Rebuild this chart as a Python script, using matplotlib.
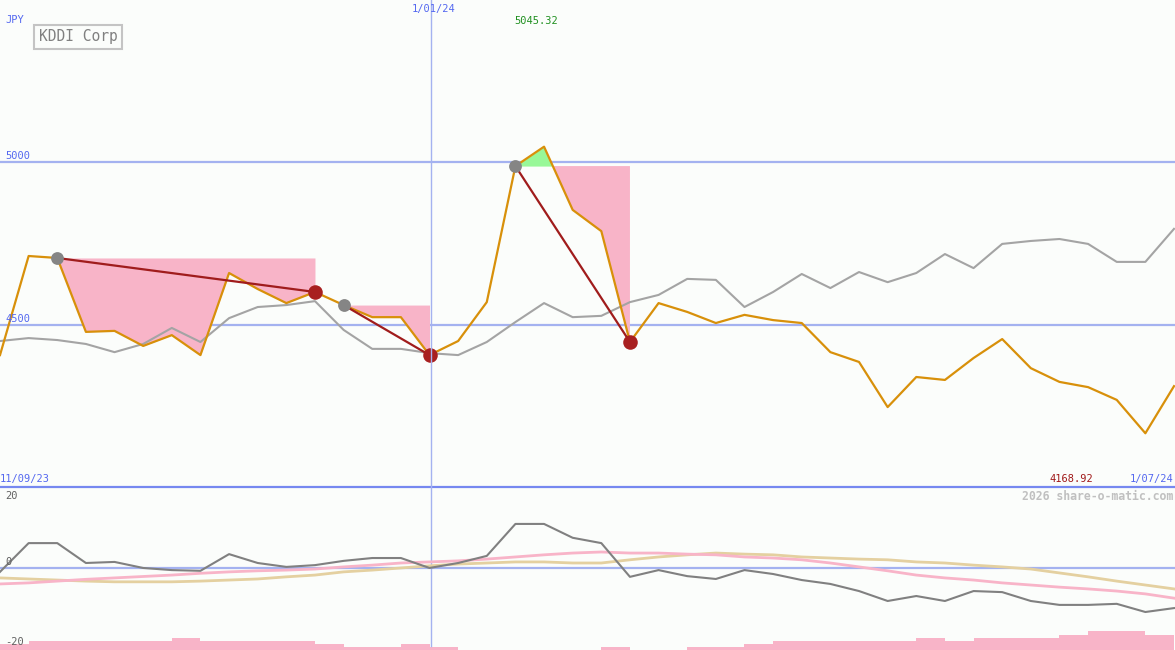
import matplotlib
matplotlib.use("Agg")
import matplotlib.pyplot as plt
import numpy as np

# weekly closes (JPY): KDDI and the grey comparison series
kddi = [4408, 4711, 4705, 4479, 4482, 4436, 4469, 4408, 4659, 4610,
        4567, 4601, 4561, 4524, 4524, 4408, 4451, 4570, 4986, 5045.32,
        4852, 4787, 4448, 4567, 4540, 4506, 4531, 4515, 4506, 4417,
        4387, 4249, 4341, 4332, 4399, 4457, 4368, 4326, 4310, 4271,
        4168.92, 4313]
compare = [4451, 4460, 4454, 4442, 4417, 4442, 4491, 4448, 4521, 4555,
           4561, 4573, 4485, 4427, 4427, 4414, 4408, 4448, 4509, 4567,
           4524, 4528, 4570, 4592, 4641, 4638, 4555, 4601, 4656, 4613,
           4662, 4631, 4659, 4717, 4674, 4748, 4757, 4763, 4748, 4693,
           4693, 4794]

# lower panel: relative strength (dark grey) and its two averages
osc = [-1.1, 7.0, 7.0, 1.4, 1.7, 0.0, -0.6, -0.8, 3.9, 1.4,
       0.3, 0.8, 2.0, 2.8, 2.8, 0.0, 1.4, 3.4, 12.4, 12.4,
       8.5, 7.0, -2.5, -0.6, -2.3, -3.1, -0.6, -1.7, -3.4, -4.5,
       -6.5, -9.3, -7.9, -9.3, -6.5, -6.8, -9.3, -10.4, -10.4, -10.1,
       -12.4, -11.3]
osc_fast = [-4.5, -4.2, -3.7, -3.2, -2.8, -2.4, -2.0, -1.5, -1.1, -0.8,
            -0.6, -0.3, 0.3, 0.8, 1.4, 1.7, 2.0, 2.5, 3.1, 3.7,
            4.2, 4.5, 4.2, 4.2, 3.9, 3.7, 3.1, 2.8, 2.3, 1.4,
            0.3, -0.8, -2.0, -2.8, -3.4, -4.2, -4.8, -5.4, -5.9, -6.5,
            -7.3, -8.5]
osc_slow = [-2.8, -3.1, -3.4, -3.7, -3.9, -3.9, -3.9, -3.7, -3.4, -3.1,
            -2.5, -2.0, -1.1, -0.6, 0.0, 0.6, 1.1, 1.4, 1.7, 1.7,
            1.4, 1.4, 2.3, 3.1, 3.7, 4.2, 3.9, 3.7, 3.1, 2.8,
            2.5, 2.3, 1.7, 1.4, 0.8, 0.3, -0.3, -1.4, -2.5, -3.7,
            -4.8, -5.9]
# weekly volume (relative)
volume = [6, 9, 9, 9, 9, 9, 12, 9, 9, 9, 9, 6, 3, 3, 6, 3, 0, 0, 0, 0,
          0, 3, 0, 0, 3, 3, 6, 9, 9, 9, 9, 9, 12, 9, 12, 12, 12, 15, 19, 19, 15]

# peak -> trough swings (start week, end week)
swings = [(2, 11), (12, 15), (18, 22)]

bg = "#fbfdfb"
blue = "#5468f0"
line_blue = "#a4b2f0"
pink = "#f8b4c8"

W, H = 1175, 650
fig = plt.figure(figsize=(W / 100, H / 100), dpi=100)
fig.patch.set_facecolor(bg)

x = np.arange(len(kddi))
k = np.array(kddi)

ax = fig.add_axes([0, 163 / H, 1, 487 / H])
ax.set_facecolor(bg)
ax.set_xlim(0, 41.035)
ax.set_ylim(4004.6, 5493.9)
ax.axis("off")

ax.axhline(5000, color=line_blue, lw=1.6, zorder=1)
ax.axhline(4500, color=line_blue, lw=1.6, zorder=1)

for s, e in swings:
    xs = x[s:e + 1]
    ys = k[s:e + 1]
    level = k[s]
    ax.fill_between(xs, ys, level, where=ys <= level, interpolate=True,
                    color=pink, lw=0, zorder=2)
    ax.fill_between(xs, ys, level, where=ys >= level, interpolate=True,
                    color="#98f898", lw=0, zorder=2)

ax.plot(x, compare, color="#a4a4a4", lw=1.5, zorder=3)
ax.plot(x, kddi, color="#d8900a", lw=1.6, zorder=4)

for s, e in swings:
    ax.plot([x[s], x[e]], [k[s], k[e]], color="#a01c1c", lw=1.6, zorder=5)
    ax.scatter([x[s]], [k[s]], s=85, color="#858585", zorder=6, lw=0)
    ax.scatter([x[e]], [k[e]], s=110, color="#a82020", zorder=6, lw=0)

# lower panel
oax = fig.add_axes([0, 0, 1, 163 / H])
oax.set_facecolor(bg)
oax.set_xlim(0, 41.035)
oax.set_ylim(-23.1, 22.8)
oax.axis("off")
vax = oax.twinx()
vax.set_ylim(0, 163)
vax.axis("off")
vax.bar(x[:-1], volume, width=1.0, align="edge", color=pink, lw=0, zorder=1)

oax.axhline(0, color=line_blue, lw=1.6, zorder=2)
oax.plot(x, osc_slow, color="#e4d0a0", lw=2.0, zorder=3)
oax.plot(x, osc_fast, color="#f8b4c8", lw=2.0, zorder=3)
oax.plot(x, osc, color="#808080", lw=1.5, zorder=4)
oax.set_zorder(2)
oax.patch.set_visible(False)

# separator and date marker
fig.add_artist(plt.Line2D([0, 1], [1 - 487 / H, 1 - 487 / H], color="#7688f0", lw=1.6))
fig.add_artist(plt.Line2D([430.5 / W, 430.5 / W], [1, 1 - 646 / H], color=line_blue, lw=1.0))


def px(xp, yp):
    return xp / W, 1 - yp / H


mono = "DejaVu Sans Mono"
fs = 7.5
fig.text(*px(5, 20), "JPY", color=blue, fontsize=fs, family=mono, va="center")
fig.text(*px(78, 37), "KDDI Corp", color="#808080", fontsize=10.5, family=mono,
         va="center", ha="center",
         bbox=dict(boxstyle="square,pad=0.3", fc=bg, ec="#c4c4c4", lw=1.5))
fig.text(*px(434, 9), "1/01/24", color=blue, fontsize=fs, family=mono, va="center", ha="center")
fig.text(*px(536, 21), "5045.32", color="#209020", fontsize=fs, family=mono, va="center", ha="center")
fig.text(*px(5, 156), "5000", color=blue, fontsize=fs, family=mono, va="center")
fig.text(*px(5, 319), "4500", color=blue, fontsize=fs, family=mono, va="center")
fig.text(*px(0, 479), "11/09/23", color=blue, fontsize=fs, family=mono, va="center")
fig.text(*px(1071, 479), "4168.92", color="#a01818", fontsize=fs, family=mono, va="center", ha="center")
fig.text(*px(1173, 479), "1/07/24", color=blue, fontsize=fs, family=mono, va="center", ha="right")
fig.text(*px(1173, 496), "2026 share-o-matic.com", color="#c0c0c0", fontsize=8.3,
         family=mono, weight="bold", va="center", ha="right")
fig.text(*px(5, 496), "20", color="#606060", fontsize=fs, family=mono, va="center")
fig.text(*px(5, 562), "0", color="#606060", fontsize=fs, family=mono, va="center")
fig.text(*px(5, 642), "-20", color="#606060", fontsize=fs, family=mono, va="center")

fig.savefig("out.png", dpi=100, facecolor=bg)
